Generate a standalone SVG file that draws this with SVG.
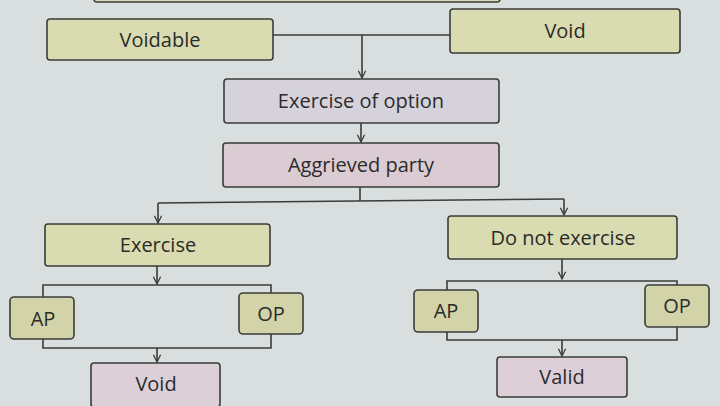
<svg xmlns="http://www.w3.org/2000/svg" width="720" height="406" viewBox="0 0 720 406">
  <defs>
    <marker id="arrow" viewBox="0 0 10 10" refX="9" refY="5" markerWidth="9" markerHeight="9" markerUnits="userSpaceOnUse" orient="auto">
      <path d="M1,1 L9,5 L1,9" fill="none" stroke="#3a3d38" stroke-width="1.4"/>
    </marker>
  </defs>
  <style>
    .box { stroke: #3a3d38; stroke-width: 1.6; }
    .green { fill: #d9dbb0; }
    .olive { fill: #d2d3a8; }
    .lilac { fill: #d5d2dc; }
    .rose { fill: #dbcbd3; }
    .blush { fill: #dccfd7; }
    .label { font-family: "Open Sans", "DejaVu Sans", sans-serif; font-size: 20px; fill: #2b2b2b; text-anchor: middle; dominant-baseline: central; }
    .wire { fill: none; stroke: #3a3d38; stroke-width: 1.6; }
  </style>

  <!-- slide background -->
  <rect x="0" y="0" width="720" height="406" fill="#d9dfde"/>

  <!-- box cut off at the top edge -->
  <g id="top-cut">
    <rect class="box green" x="94" y="-40" width="406" height="42" rx="3"/>
  </g>

  <g id="voidable">
    <rect class="box green" x="47" y="19" width="226" height="41" rx="3"/>
    <text class="label" x="160" y="39">Voidable</text>
  </g>
  <g id="void-top">
    <rect class="box green" x="450" y="9" width="230" height="44" rx="3"/>
    <text class="label" x="565" y="30">Void</text>
  </g>
  <g id="exercise-of-option">
    <rect class="box lilac" x="224" y="79" width="275" height="44" rx="3"/>
    <text class="label" x="361" y="100">Exercise of option</text>
  </g>
  <g id="aggrieved-party">
    <rect class="box rose" x="223" y="143" width="276" height="44" rx="3"/>
    <text class="label" x="361" y="164">Aggrieved party</text>
  </g>
  <g id="exercise">
    <rect class="box green" x="45" y="224" width="225" height="42" rx="3"/>
    <text class="label" x="158" y="244">Exercise</text>
  </g>
  <g id="do-not-exercise">
    <rect class="box green" x="448" y="216" width="229" height="43" rx="3"/>
    <text class="label" x="563" y="237">Do not exercise</text>
  </g>
  <g id="ap-left">
    <rect class="box olive" x="10" y="297" width="64" height="42" rx="4"/>
    <text class="label" x="43" y="318">AP</text>
  </g>
  <g id="op-left">
    <rect class="box olive" x="239" y="293" width="64" height="41" rx="4"/>
    <text class="label" x="271" y="313">OP</text>
  </g>
  <g id="ap-right">
    <rect class="box olive" x="414" y="290" width="64" height="42" rx="4"/>
    <text class="label" x="446" y="310">AP</text>
  </g>
  <g id="op-right">
    <rect class="box olive" x="645" y="285" width="64" height="42" rx="4"/>
    <text class="label" x="677" y="305">OP</text>
  </g>
  <g id="void-bottom">
    <rect class="box blush" x="91" y="363" width="129" height="44" rx="3"/>
    <text class="label" x="156" y="383">Void</text>
  </g>
  <g id="valid">
    <rect class="box blush" x="497" y="357" width="130" height="40" rx="3"/>
    <text class="label" x="562" y="376">Valid</text>
  </g>

  <g id="connectors">
    <!-- Voidable / Void join into Exercise of option -->
    <path class="wire" d="M273,35 H450"/>
    <path class="wire" d="M362,35 V78" marker-end="url(#arrow)"/>
    <path class="wire" d="M361,123 V142" marker-end="url(#arrow)"/>
    <!-- Aggrieved party branches -->
    <path class="wire" d="M360,187 V201"/>
    <path class="wire" d="M158,203 L564,199"/>
    <path class="wire" d="M158,203 V223" marker-end="url(#arrow)"/>
    <path class="wire" d="M564,199 V215" marker-end="url(#arrow)"/>
    <!-- left bracket -->
    <path class="wire" d="M157,266 V284" marker-end="url(#arrow)"/>
    <path class="wire" d="M43,297 V285 H271 V293"/>
    <path class="wire" d="M43,339 V348 H271 V334"/>
    <path class="wire" d="M157,348 V362" marker-end="url(#arrow)"/>
    <!-- right bracket -->
    <path class="wire" d="M562,259 V279" marker-end="url(#arrow)"/>
    <path class="wire" d="M447,290 V281 H677 V285"/>
    <path class="wire" d="M447,332 V340 H677 V327"/>
    <path class="wire" d="M562,340 V356" marker-end="url(#arrow)"/>
  </g>
</svg>
